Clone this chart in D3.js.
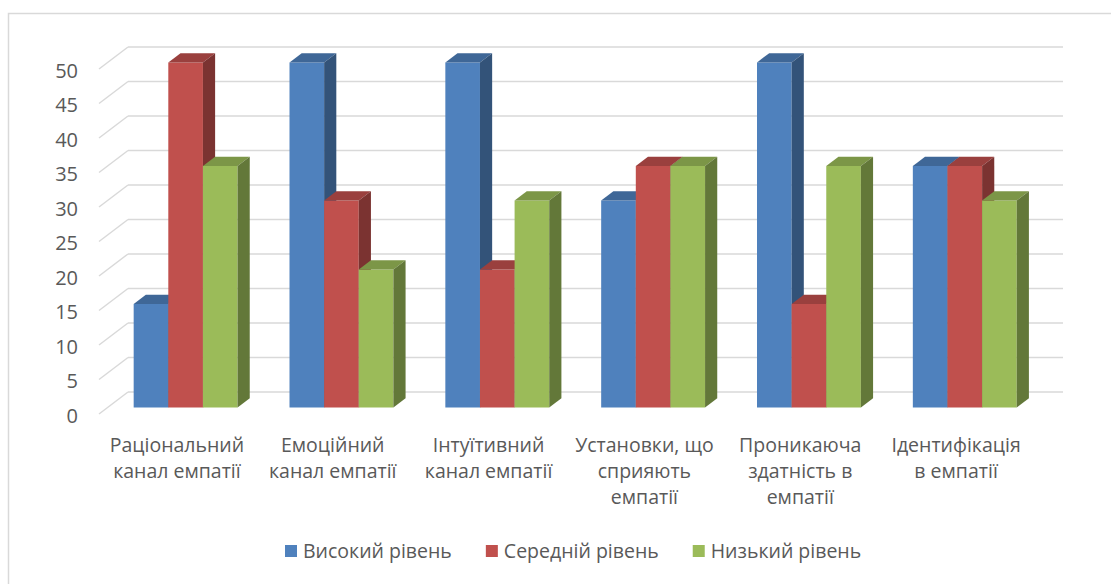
<!DOCTYPE html>
<html>
<head>
<meta charset="utf-8">
<script src="https://cdn.jsdelivr.net/npm/d3@7"></script>
<style>
  html, body { margin: 0; padding: 0; background: #fff; }
  svg { display: block; }
  text { font-family: "Open Sans", "Noto Sans", sans-serif; fill: #595959; }
</style>
</head>
<body>
<svg id="chart" width="1111" height="584"></svg>
<script>
// Category labels, one entry per wrapped line
const categoryLines = [
  ["Раціональний", "канал емпатії"],
  ["Емоційний", "канал емпатії"],
  ["Інтуїтивний", "канал емпатії"],
  ["Установки, що", "сприяють", "емпатії"],
  ["Проникаюча", "здатність в", "емпатії"],
  ["Ідентифікація", "в емпатії"]
];
const seriesNames = ["Високий рівень", "Середній рівень", "Низький рівень"];
const highLevel   = [15, 50, 50, 30, 50, 35];
const middleLevel = [50, 30, 20, 35, 15, 35];
const lowLevel    = [35, 20, 30, 35, 35, 30];
const yTicks = [0, 5, 10, 15, 20, 25, 30, 35, 40, 45, 50];
const seriesColors = ["#4F81BD", "#C0504D", "#9BBB59"];

const seriesValues = [highLevel, middleLevel, lowLevel];
const categories = categoryLines.map(l => l.join(" "));

const svg = d3.select("#chart");

// chart frame
svg.append("rect")
  .attr("x", 8.5).attr("y", 13.5)
  .attr("width", 1200).attr("height", 700)
  .attr("fill", "#fff")
  .attr("stroke", "#D9D9D9").attr("stroke-width", 1.5);

// front plane scales; depth is an oblique offset towards the back wall
const x = d3.scaleBand().domain(categories).range([99, 1034]).padding(0);
const inner = d3.scaleBand().domain(seriesNames)
  .range([x.bandwidth() / 6, x.bandwidth() * 5 / 6]).padding(0);
const y = d3.scaleLinear().domain([0, 50]).range([414, 69]);
const DX = 29, DY = -22;          // full depth offset (front -> back wall)
const zFront = 0.3, zBack = 0.72;  // bar depth span

const P = (px, v, z) => [px + DX * z, y(v) + DY * z];
const poly = pts => pts.map(p => p.join(",")).join(" ");

// gridlines: back wall and left side wall
const grid = svg.append("g").attr("stroke", "#D9D9D9").attr("stroke-width", 1.5).attr("fill", "none");
yTicks.forEach(t => {
  const a = P(x.range()[0], t, 1), b = P(x.range()[1], t, 1), c = P(x.range()[0], t, 0);
  grid.append("line").attr("x1", a[0]).attr("y1", a[1]).attr("x2", b[0]).attr("y2", b[1]);
  grid.append("line").attr("x1", c[0]).attr("y1", c[1]).attr("x2", a[0]).attr("y2", a[1]);
});

// y tick labels
svg.append("g").selectAll("text").data(yTicks).join("text")
  .attr("x", 78).attr("y", d => y(d) + 1)
  .attr("text-anchor", "end").attr("dominant-baseline", "central")
  .attr("font-size", 20)
  .text(d => d);

// 3D columns, drawn left to right so nearer faces overlap correctly
const shade = (c, k) => { const r = d3.rgb(c); return d3.rgb(r.r * k, r.g * k, r.b * k).formatHex(); };
const bars = svg.append("g");
categories.forEach((cat, ci) => {
  seriesNames.forEach((s, si) => {
    const v = seriesValues[si][ci];
    const x0 = x(cat) + inner(s), x1 = x0 + inner.bandwidth();
    const col = seriesColors[si];
    const g = bars.append("g");
    g.append("polygon").attr("fill", col)
      .attr("points", poly([P(x0, 0, zFront), P(x1, 0, zFront), P(x1, v, zFront), P(x0, v, zFront)]));
    g.append("polygon").attr("fill", shade(col, 0.8))
      .attr("points", poly([P(x0, v, zFront), P(x1, v, zFront), P(x1, v, zBack), P(x0, v, zBack)]));
    g.append("polygon").attr("fill", shade(col, 0.64))
      .attr("points", poly([P(x1, 0, zFront), P(x1, v, zFront), P(x1, v, zBack), P(x1, 0, zBack)]));
  });
});

// category labels
const catG = svg.append("g").attr("font-size", 19.5).attr("text-anchor", "middle");
categoryLines.forEach((lines, ci) => {
  const cx = x(categories[ci]) + x.bandwidth() / 2;
  lines.forEach((ln, li) => {
    catG.append("text").attr("x", cx).attr("y", y(0) + 38 + li * 26).text(ln);
  });
});

// legend
const legend = svg.append("g").attr("font-size", 19.5);
let lx = 285;
seriesNames.forEach((s, si) => {
  legend.append("rect").attr("x", lx).attr("y", 545).attr("width", 12).attr("height", 12)
    .attr("fill", seriesColors[si]);
  const t = legend.append("text").attr("x", lx + 18).attr("y", 558).text(s);
  lx += 18 + t.node().getComputedTextLength() + 34;
});
</script>
</body>
</html>
